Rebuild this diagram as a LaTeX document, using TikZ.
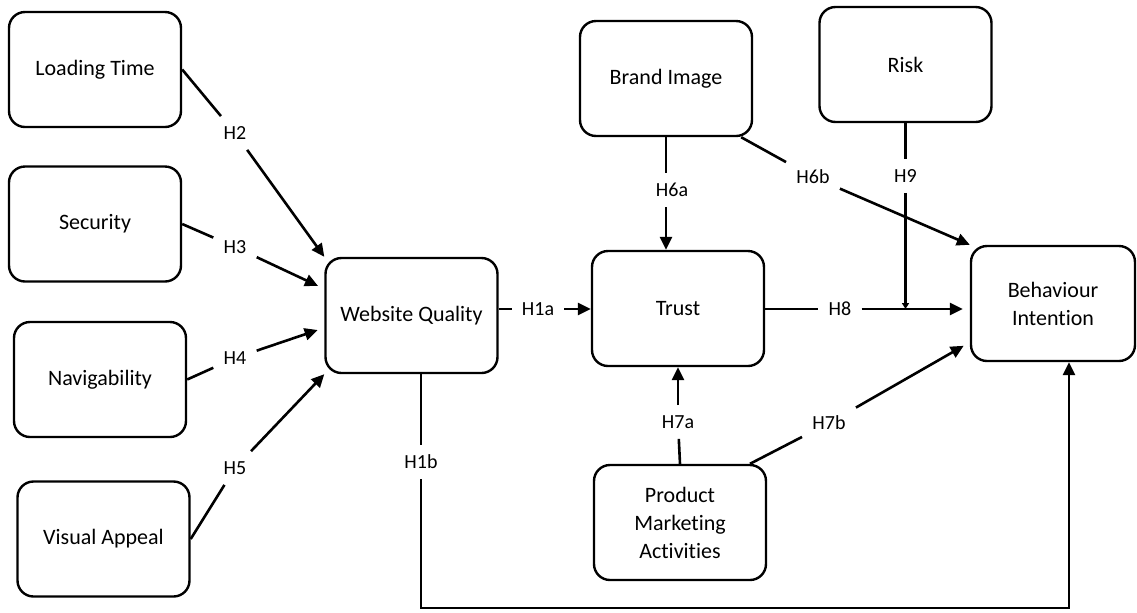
\documentclass[tikz,border=0pt]{standalone}
\usepackage{fontspec}
\setmainfont{Carlito}[Ligatures=NoCommon]
\usetikzlibrary{arrows.meta,calc}
\tikzset{
  box/.style={draw, line width=1.2pt, rounded corners=8pt, minimum width=86pt, minimum height=57.5pt, align=center, inner sep=2pt, font=\fontsize{11}{14}\selectfont},
  hyp/.style={inner sep=5pt, font=\fontsize{10}{12}\selectfont},
  link/.style={line width=1.3pt},
  arr/.style={link, -{Triangle[length=6.5pt,width=6pt]}},
  tick/.style={link, -{Triangle[length=3pt,width=3.5pt]}}
}
\begin{document}
\begin{tikzpicture}[x=0.5pt,y=0.5pt,yscale=-1,xscale=1]
\useasboundingbox (0,0) rectangle (1137,612);

%Rounded Rect (constructs)
\node[box] (load) at (95,69.5) {Loading Time};
\node[box] (sec) at (95,224) {Security};
\node[box] (nav) at (100,379.5) {Navigability};
\node[box] (vis) at (103.5,539) {Visual Appeal};
\node[box] (wq) at (411.5,315.5) {Website Quality};
\node[box] (trust) at (678,308.5) {Trust};
\node[box] (brand) at (666,78.5) {Brand Image};
\node[box] (risk) at (905.5,64.5) {Risk};
\node[box] (pma) at (680,522.5) {Product\\Marketing\\Activities};
\node[box, minimum width=82pt] (beh) at (1053,303.5) {Behaviour\\Intention};

% Text Node (hypotheses)
\node[hyp] (h2) at (235,133) {H2};
\node[hyp] (h3) at (235,247) {H3};
\node[hyp] (h4) at (235,358) {H4};
\node[hyp] (h5) at (235,468) {H5};
\node[hyp] (h1a) at (538,309) {H1a};
\node[hyp] (h1b) at (421,462) {H1b};
\node[hyp] (h6a) at (672,190) {H6a};
\node[hyp] (h6b) at (813,177) {H6b};
\node[hyp] (h7a) at (678,422) {H7a};
\node[hyp] (h7b) at (829,423) {H7b};
\node[hyp] (h8) at (840,309) {H8};
\node[hyp] (h9) at (905.5,176) {H9};
\coordinate (loop) at (1069,608);

%Straight Lines
\draw[link] (load.east) -- (h2);
\draw[arr] (h2) -- (wq.north west);
\draw[link] (sec.east) -- (h3);
\draw[arr, shorten >=3.5pt] (h3) -- (wq.163);
\draw[link] (nav.east) -- (h4);
\draw[arr, shorten >=3.5pt] (h4) -- (wq.188);
\draw[link] (vis.east) -- (h5);
\draw[arr] (h5) -- (wq.south west);

\draw[link] (h1a -| wq.east) -- (h1a);
\draw[arr] (h1a) -- (h1a -| trust.west);

\draw[link] (brand.south) -- (brand.south |- h6a.north);
\draw[arr] (brand.south |- h6a.south) -- (brand.south |- trust.north);
\draw[link] (brand.-38.5) -- (h6b);
\draw[arr] (h6b) -- (beh.north west);

\draw[link] (pma.north) -- (h7a);
\draw[arr] (h7a) -- (trust.south);
\draw[link] (pma.40) -- (h7b);
\draw[arr, shorten >=3.5pt] (h7b) -- (beh.205);

\draw[link] (h8 -| trust.east) -- (h8);
\draw[arr, shorten >=3.5pt] (h8) -- (h8 -| beh.west);
\draw[link] (risk.south) -- (h9);
\draw[tick] (h9) -- (h9 |- h8);

\draw[link] (h1b |- wq.south) -- (h1b);
\draw[arr] (h1b) -- (h1b |- loop) -- (loop) -- (loop |- beh.south);

\end{tikzpicture}
\end{document}
